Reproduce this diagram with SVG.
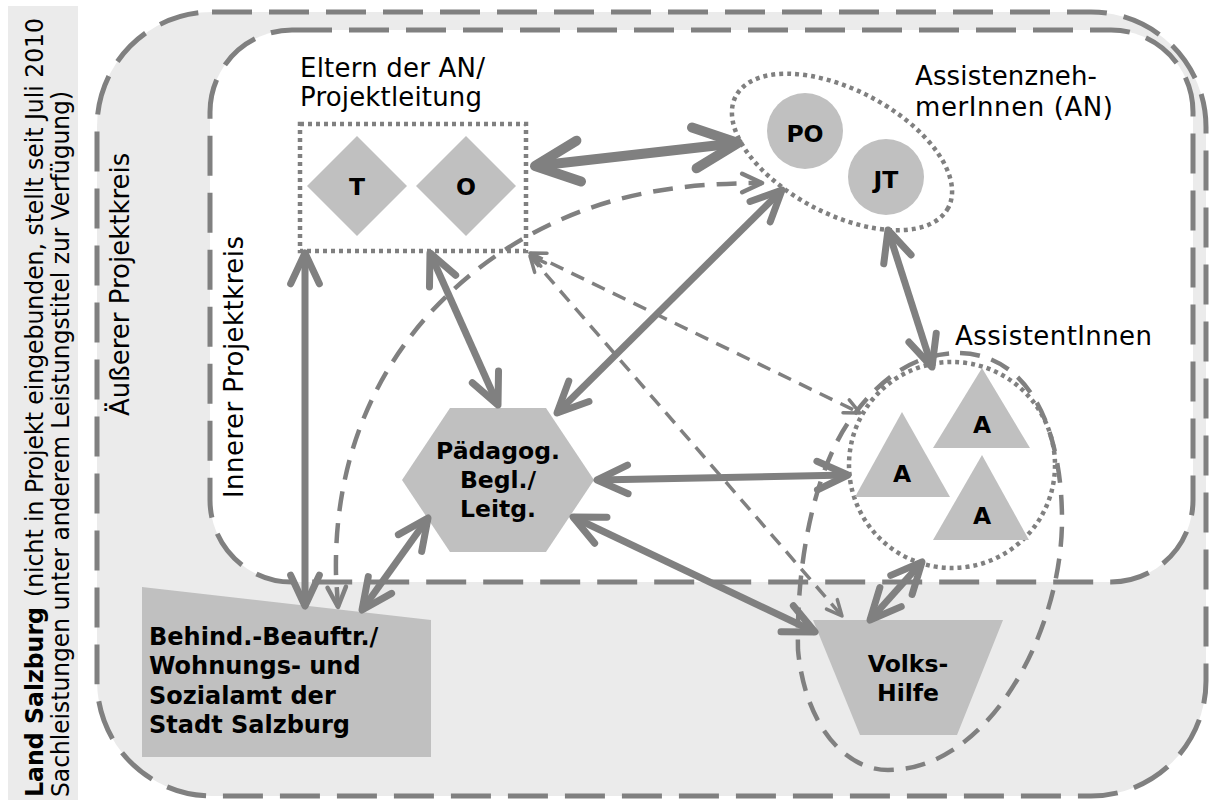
<svg xmlns="http://www.w3.org/2000/svg" width="1209" height="800" viewBox="0 0 1209 800">
<defs>
<style>
.reg{font-family:"DejaVu Sans","Liberation Sans",sans-serif;font-size:26px;fill:#000}
.bold{font-family:"DejaVu Sans","Liberation Sans",sans-serif;font-size:23.5px;font-weight:bold;fill:#000;text-anchor:middle}
.boldl{font-family:"DejaVu Sans","Liberation Sans",sans-serif;font-size:24px;font-weight:bold;fill:#000}
.side{font-family:"DejaVu Sans Condensed","DejaVu Sans","Liberation Sans",sans-serif;font-size:24px;fill:#000}
.shape{fill:#c0c0c0;stroke:none}
.dot{fill:none;stroke:#808080;stroke-width:4.5;stroke-dasharray:4 4}
.frame{stroke:#808080;stroke-width:5;stroke-dasharray:40 17}
.thick{fill:none;stroke:#808080;stroke-width:7;marker-start:url(#ah);marker-end:url(#ah)}
.thin{fill:none;stroke:#808080;stroke-width:3.5;stroke-dasharray:14 9;marker-start:url(#ah);marker-end:url(#ah)}
.med{fill:none;stroke:#808080;stroke-width:4.5;stroke-dasharray:20 12}
</style>
<marker id="ah" viewBox="-6 -4 7 8" refX="0" refY="0" markerWidth="7" markerHeight="8" orient="auto-start-reverse" markerUnits="strokeWidth" overflow="visible">
<path d="M -4.4 -2.05 L 0 0 L -4.4 2.05" fill="none" stroke="#808080" stroke-width="1" stroke-linecap="round" stroke-linejoin="round"/>
</marker>
</defs>
<rect width="1209" height="800" fill="#fff"/>
<g id="land-salzburg">
<rect x="8" y="6" width="70" height="794" fill="#ebebeb"/>
<text class="side" font-weight="bold" transform="translate(43,797) rotate(-90)" textLength="190" lengthAdjust="spacingAndGlyphs">Land Salzburg</text>
<text class="side" transform="translate(43,597) rotate(-90)" textLength="579" lengthAdjust="spacingAndGlyphs">(nicht in Projekt eingebunden, stellt seit Juli 2010</text>
<text class="side" transform="translate(69,797) rotate(-90)" textLength="706" lengthAdjust="spacingAndGlyphs">Sachleistungen unter anderem Leistungstitel zur Verfügung)</text>
</g>
<g id="outer-circle">
<rect class="frame" x="97" y="12" width="1109" height="784" rx="115" fill="#ebebeb"/>
<text class="reg" transform="translate(129,416) rotate(-90)">Äußerer Projektkreis</text>
</g>
<g id="inner-circle">
<rect class="frame" x="210" y="30" width="983" height="552" rx="82" fill="#fff"/>
<text class="reg" transform="translate(243,498) rotate(-90)" textLength="262" lengthAdjust="spacing">Innerer Projektkreis</text>
</g>
<g id="eltern">
<rect class="dot" x="300" y="124" width="226" height="127"/>
<polygon class="shape" points="357,136 407,186 357,236 307,186"/>
<polygon class="shape" points="466,136 516,186 466,236 416,186"/>
<text class="bold" x="357" y="195">T</text>
<text class="bold" x="466" y="195">O</text>
<text class="reg" x="300" y="77" textLength="185" lengthAdjust="spacing">Eltern der AN/</text>
<text class="reg" x="300" y="106" textLength="182" lengthAdjust="spacing">Projektleitung</text>
</g>
<g id="an">
<ellipse class="dot" cx="842" cy="152" rx="120" ry="62" transform="rotate(27.7 842 152)"/>
<circle class="shape" cx="805" cy="131" r="38"/>
<circle class="shape" cx="886" cy="177" r="38"/>
<text class="bold" x="805" y="142">PO</text>
<text class="bold" x="886" y="188">JT</text>
<text class="reg" x="915" y="85" textLength="182" lengthAdjust="spacing">Assistenzneh-</text>
<text class="reg" x="915" y="116" textLength="198" lengthAdjust="spacing">merInnen (AN)</text>
</g>
<g id="assistentinnen">
<circle class="dot" cx="952" cy="465" r="103"/>
<polygon class="shape" points="982,368 1030,448 933,448"/>
<polygon class="shape" points="902,412 950,497 855,497"/>
<polygon class="shape" points="982,455 1029,540 933,540"/>
<text class="bold" x="982" y="433">A</text>
<text class="bold" x="902" y="482">A</text>
<text class="bold" x="982" y="524">A</text>
<text class="reg" x="955" y="345" textLength="197" lengthAdjust="spacing">AssistentInnen</text>
</g>
<g id="paedagog">
<polygon class="shape" points="402,480 450,408 546,408 594,480 546,552 450,552"/>
<text class="bold" x="498" y="459">Pädagog.</text>
<text class="bold" x="498" y="488">Begl./</text>
<text class="bold" x="498" y="517">Leitg.</text>
</g>
<g id="behind">
<polygon class="shape" points="142,587 431,620 431,757 142,757"/>
<text class="boldl" x="149" y="645">Behind.-Beauftr./</text>
<text class="boldl" x="149" y="674">Wohnungs- und</text>
<text class="boldl" x="149" y="704">Sozialamt der</text>
<text class="boldl" x="149" y="733">Stadt Salzburg</text>
</g>
<g id="volkshilfe">
<polygon class="shape" points="813,620 1003,620 957,735 860,735"/>
<text class="bold" x="908" y="672">Volks-</text>
<text class="bold" x="908" y="701">Hilfe</text>
</g>
<g id="connectors">
<path class="med" d="M 960 353 C 1030 355 1062 430 1062 520 C 1062 630 990 770 888 770 C 845 770 805 725 798 650 C 796 560 815 470 850 420 C 880 378 915 353 960 353 Z"/>
<path class="med" d="M 338 607 L 336 575 C 333 430 400 320 500 253 C 580 200 660 183 762 183" marker-start="url(#ah)" marker-end="url(#ah)"/>
<line class="thin" x1="530" y1="253" x2="860" y2="413"/>
<line class="thin" x1="530" y1="256" x2="842" y2="616"/>
<line class="thick" x1="535" y1="166" x2="738" y2="143" style="stroke-width:10"/>
<line class="thick" x1="305" y1="253" x2="305" y2="606"/>
<line class="thick" x1="430" y1="253" x2="498" y2="405"/>
<line class="thick" x1="782" y1="190" x2="557" y2="413"/>
<line class="thick" x1="888" y1="230" x2="932" y2="367"/>
<line class="thick" x1="597" y1="480" x2="848" y2="475"/>
<line class="thick" x1="573" y1="517" x2="815" y2="632"/>
<line class="thick" x1="428" y1="518" x2="362" y2="610"/>
<line class="thick" x1="922" y1="562" x2="870" y2="620"/>
</g>
</svg>
